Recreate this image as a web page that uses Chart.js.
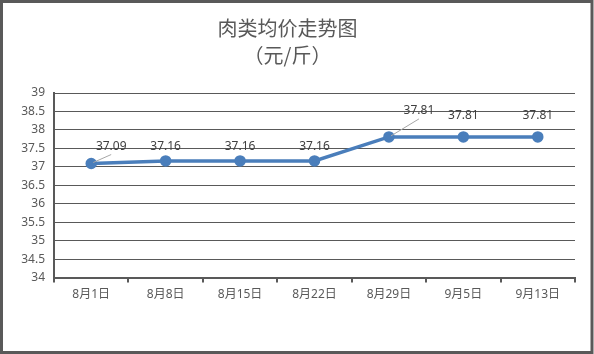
<!DOCTYPE html>
<html>
<head>
<meta charset="utf-8">
<script src="https://cdn.jsdelivr.net/npm/chart.js@4"></script>
<style>
  html, body { margin: 0; padding: 0; background: #fff; }
  #wrap { width: 594px; height: 354px; position: relative; }
</style>
</head>
<body>
<div id="wrap"><canvas id="priceChart"></canvas></div>
<script>
'use strict';

/* ---- data ---- */
const dates  = ['8月1日', '8月8日', '8月15日', '8月22日', '8月29日', '9月5日', '9月13日'];
const prices = [37.09, 37.16, 37.16, 37.16, 37.81, 37.81, 37.81];
const titleLines = ['肉类均价走势图', '（元/斤）'];

/* label offsets (dx, dy) from each point; leader line drawn when set */
const labelOffsets = [[20, -17, true], [0, -14], [0, -14], [0, -14], [30, -26, true], [0, -21], [0, -21]];

const TEXT = '#595959';
const GRID = '#595959';
const LINE = '#4a7ebb';
const FONT = "'Noto Sans', 'Noto Sans CJK SC', sans-serif";

/* border around the whole picture */
const frame = {
  id: 'frame',
  afterDraw(chart) {
    const c = chart.ctx;
    c.save();
    c.strokeStyle = '#595959';
    c.lineWidth = 3;
    c.strokeRect(1.5, 1.5, 590.5, 351);
    c.restore();
  }
};

/* data labels with optional leader line */
const valueLabels = {
  id: 'valueLabels',
  afterDatasetsDraw(chart) {
    const c = chart.ctx;
    const meta = chart.getDatasetMeta(0);
    c.save();
    c.font = '12px ' + FONT;
    c.fillStyle = '#404040';
    c.textAlign = 'center';
    c.textBaseline = 'middle';
    meta.data.forEach((pt, i) => {
      const [dx, dy, leader] = labelOffsets[i];
      const lx = pt.x + dx, ly = pt.y + dy;
      if (leader) {
        c.strokeStyle = '#a6a6a6';
        c.lineWidth = 1;
        c.beginPath();
        c.moveTo(pt.x + 2, pt.y - 1);
        c.lineTo(lx, ly + 8);
        c.stroke();
      }
      c.fillText(prices[i].toFixed(2), lx, ly);
    });
    c.restore();
  }
};

new Chart(document.getElementById('priceChart'), {
  type: 'line',
  data: {
    labels: dates,
    datasets: [{
      data: prices,
      borderColor: LINE,
      backgroundColor: LINE,
      borderWidth: 3.5,
      pointRadius: 4,
      pointBackgroundColor: LINE,
      pointBorderColor: LINE,
      tension: 0,
    }],
  },
  options: {
    responsive: true,
    maintainAspectRatio: false,
    animation: false,
    layout: { padding: { left: 0, right: 19, top: 11, bottom: 47 } },
    plugins: {
      legend: { display: false },
      tooltip: { enabled: false },
      title: {
        display: true,
        text: titleLines,
        color: TEXT,
        font: { size: 20, family: "'Noto Sans CJK SC', sans-serif", weight: 'normal', lineHeight: 1.35 },
        padding: { top: 4, bottom: 24 },
      },
    },
    scales: {
      x: {
        offset: true,
        grid: {
          offset: true,
          drawOnChartArea: false,
          drawTicks: true,
          tickLength: 5,
          color: GRID,
          lineWidth: 2,
        },
        border: { color: GRID, width: 2 },
        ticks: { color: TEXT, font: { size: 12, family: FONT }, padding: 5, maxRotation: 0 },
      },
      y: {
        min: 34,
        max: 39,
        afterFit(scale) { scale.width = 54; },
        grid: { color: GRID, lineWidth: 1, drawTicks: false },
        border: { color: GRID, width: 2 },
        ticks: {
          stepSize: 0.5,
          color: TEXT,
          font: { size: 12, family: FONT },
          padding: 9,
          callback: v => String(v),
        },
      },
    },
  },
  plugins: [frame, valueLabels],
});
</script>
</body>
</html>
